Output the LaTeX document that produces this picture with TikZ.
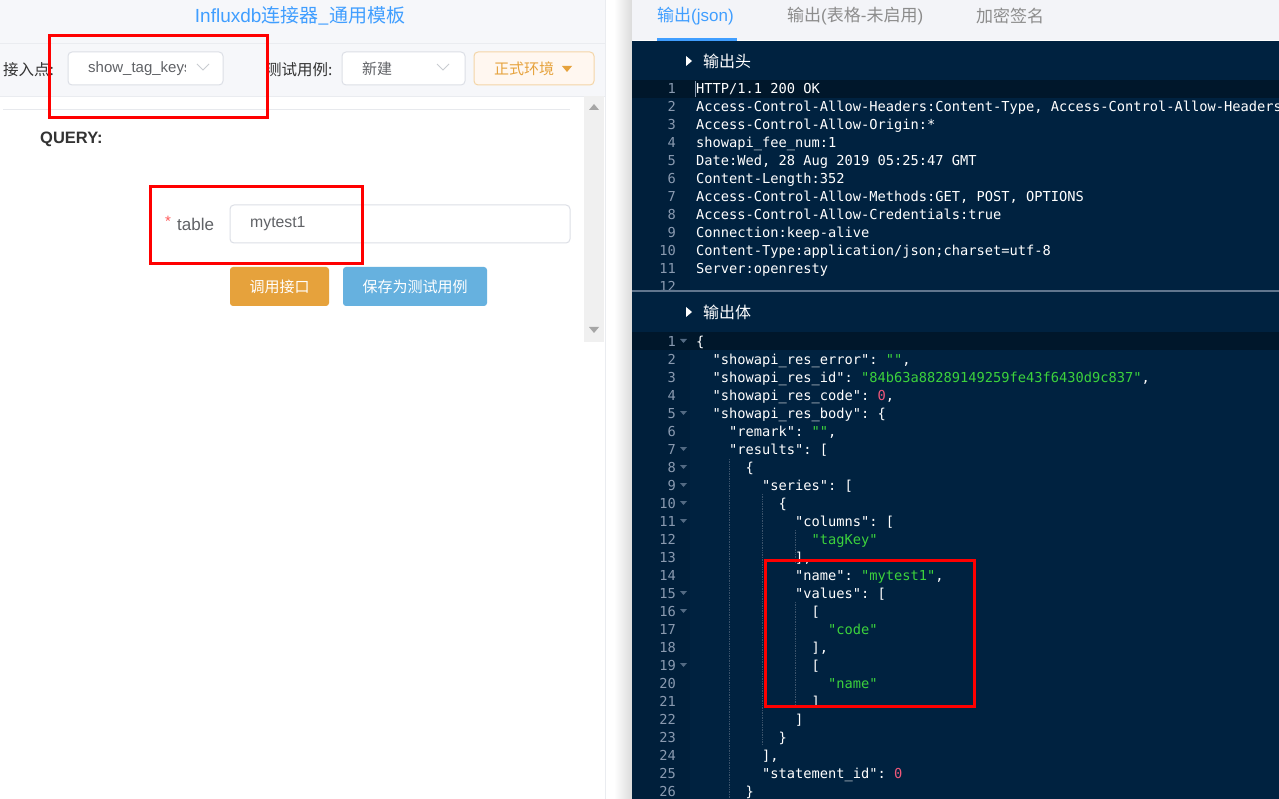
\documentclass[tikz,border=0pt]{standalone}
\usepackage{fontspec}
\setmainfont{Liberation Sans}
\setmonofont{DejaVu Sans Mono}
\newfontfamily\cjk{Noto Sans CJK SC}
\definecolor{navy}{HTML}{002240}
\definecolor{activeline}{HTML}{00172B}
\definecolor{gutter}{HTML}{001F3B}
\definecolor{numgray}{HTML}{8A9AB0}
\definecolor{guidegray}{HTML}{3B536B}
\definecolor{jsongreen}{HTML}{3CD23C}
\definecolor{jsonred}{HTML}{F0587A}
\definecolor{uiblue}{HTML}{409EFF}
\definecolor{uigray}{HTML}{606266}
\definecolor{uidark}{HTML}{333333}
\definecolor{bordergray}{HTML}{DCDFE6}
\definecolor{bandgray}{HTML}{F6F7FA}
\definecolor{tabgray}{HTML}{F3F4F8}
\definecolor{uiorange}{HTML}{E6A23C}
\definecolor{uisky}{HTML}{66B1DF}
\newcommand{\jstr}[1]{\textcolor{jsongreen}{#1}}
\newcommand{\jnum}[1]{\textcolor{jsonred}{#1}}

\begin{document}
\begin{tikzpicture}[x=1pt, y=-1pt, inner sep=0pt,
    ui/.style={anchor=west, font=\fontsize{15}{17}\selectfont, text=uigray},
    code/.style={anchor=base west, font=\fontsize{13.7}{16}\ttfamily, text=white},
    lnum/.style={anchor=base east, font=\fontsize{13.7}{16}\ttfamily, text=numgray},
    field/.style={draw=bordergray, fill=white, rounded corners=4pt, line width=1pt},
    button/.style={rounded corners=3pt},
    redbox/.style={draw=red, line width=3pt},
    chevron/.style={draw=bordergray!80!gray, line width=1pt},
    fold/.style={fill=numgray!60!navy},
    guide/.style={draw=guidegray, densely dotted, line width=0.7pt}]
    \useasboundingbox (0,0) rectangle (1279,799);
    \fill[white] (0,0) rectangle (1279,799);
    \fill[bandgray] (0,0) rectangle (605,96);
    \draw[bordergray!60] (0,43.5) -- (605,43.5);
    \draw[bordergray!60] (0,96) -- (605,96);
    \draw[bordergray!60] (605,0) -- (605,799);
    \draw[bordergray!70] (3,109) -- (570,109);
    \node[font=\fontsize{19}{21}\selectfont, text=uiblue] (title) at (300,16)
        {Influxdb{\cjk 连接器\_通用模板}};
    \node[ui, text=uidark, font=\fontsize{15.5}{17}\cjk] (pointlabel) at (3,70) {接入点:};
    \draw[field] (68,52) rectangle (223,85);
    \begin{scope}
        \clip (80,52) rectangle (185,85);
        \node[ui] (pointvalue) at (88,69) {show\_tag\_keys};
    \end{scope}
    \draw[chevron] (197,64) -- (203,70) -- (209,64);
    \node[ui, text=uidark, font=\fontsize{15.5}{17}\cjk] (caselabel) at (266,70) {测试用例:};
    \draw[field] (342,52) rectangle (465,85);
    \node[ui, font=\fontsize{15}{17}\cjk] (casevalue) at (362,69) {新建};
    \draw[chevron] (437,64) -- (443,70) -- (449,64);
    \draw[field, fill=orange!6, draw=uiorange!45] (474,52) rectangle (594,85);
    \node[ui, text=uiorange, font=\fontsize{15}{17}\cjk] (envvalue) at (494,69) {正式环境};
    \fill[uiorange] (562,66) -- (572,66) -- (567,72) -- cycle;
    \fill[black!6] (584,96) rectangle (604,342);
    \fill[black!35] (589,110) -- (599,110) -- (594,104) -- cycle;
    \fill[black!35] (589,327) -- (599,327) -- (594,333) -- cycle;
    \node[anchor=west, font=\fontsize{16.5}{18}\selectfont\bfseries, text=uidark] (query) at (40,139) {QUERY:};
    \node[anchor=west, font=\fontsize{15}{17}\selectfont, text=red!65] (star) at (165,221) {*};
    \node[ui, font=\fontsize{17}{19}\selectfont] (tablelabel) at (177,224) {table};
    \draw[field] (230,205) rectangle (570,243);
    \node[ui, font=\fontsize{15.8}{17}\selectfont] (tablevalue) at (250,224) {mytest1};
    \fill[button, uiorange] (230,267) rectangle (329,306);
    \node[text=white, font=\fontsize{15}{17}\cjk] (callbtn) at (279.5,286.5) {调用接口};
    \fill[button, uisky] (343,267) rectangle (487,306);
    \node[text=white, font=\fontsize{15}{17}\cjk] (savebtn) at (415,286.5) {保存为测试用例};
    \draw[redbox] (49,36) rectangle (267,118);
    \draw[redbox] (150,187) rectangle (362,264);
    \shade[left color=white, right color=black!14] (614,0) rectangle (632,799);
    \fill[tabgray] (632,0) rectangle (1279,40);
    \fill[navy] (632,41) rectangle (1279,799);
    \node[ui, text=uiblue, font=\fontsize{17}{19}\selectfont] (tabjson) at (657,16) {{\cjk 输出}(json)};
    \fill[uiblue] (657,38) rectangle (737,41);
    \node[ui, text=black!45, font=\fontsize{17}{19}\selectfont] (tabtable) at (787,16) {{\cjk 输出}({\cjk 表格}-{\cjk 未启用})};
    \node[ui, text=black!45, font=\fontsize{17}{19}\cjk] (tabsign) at (976,16) {加密签名};
    \fill[white] (686,56) -- (692,61) -- (686,66) -- cycle;
    \node[ui, text=white, font=\fontsize{16}{18}\cjk] (headtitle) at (703,61) {输出头};
    \begin{scope}
        \clip (632,80) rectangle (1279,291);
        \fill[gutter] (632,80) rectangle (690,291);
        \fill[activeline] (632,80) rectangle (1279,98);
        \draw[numgray, line width=0.8pt] (695.5,81) -- (695.5,97);
        \foreach \n in {1,...,12}
            \node[lnum] (hn\n) at (676,{94+18*(\n-1)}) {\n};
        \foreach \n/\txt in {1/{HTTP/1.1 200 OK},
            2/{Access-Control-Allow-Headers:Content-Type, Access-Control-Allow-Headers},
            3/{Access-Control-Allow-Origin:*},
            4/{showapi\_fee\_num:1},
            5/{Date:Wed, 28 Aug 2019 05:25:47 GMT},
            6/{Content-Length:352},
            7/{Access-Control-Allow-Methods:GET, POST, OPTIONS},
            8/{Access-Control-Allow-Credentials:true},
            9/{Connection:keep-alive},
            10/{Content-Type:application/json;charset=utf-8},
            11/{Server:openresty}}
            \node[code] (h\n) at (696,{94+18*(\n-1)}) {\txt};
    \end{scope}
    \draw[numgray!70!navy, line width=1.5pt] (632,291) -- (1279,291);
    \fill[white] (686,307) -- (692,312) -- (686,317) -- cycle;
    \node[ui, text=white, font=\fontsize{16}{18}\cjk] (bodytitle) at (703,312) {输出体};
    \fill[gutter] (632,332) rectangle (690,799);
    \fill[activeline] (632,332) rectangle (1279,350);
    \draw[guide] (729,459) -- (729,799);
    \draw[guide] (762,494) -- (762,745);
    \draw[guide] (795,530) -- (795,563);
    \draw[guide] (795,602) -- (795,707);
    \foreach \n in {1,...,26}
        \node[lnum] (bn\n) at (676,{346+18*(\n-1)}) {\n};
    \foreach \n in {1,5,7,8,9,10,11,15,16,19}
        \fill[fold] (680,{339+18*(\n-1)}) -- ++(7,0) -- ++(-3.5,4) -- cycle;
    \foreach \n/\i/\txt in {1/0/{\{},
        2/2/{"showapi\_res\_error": \jstr{""},},
        3/2/{"showapi\_res\_id": \jstr{"84b63a88289149259fe43f6430d9c837"},},
        4/2/{"showapi\_res\_code": \jnum{0},},
        5/2/{"showapi\_res\_body": \{},
        6/4/{"remark": \jstr{""},},
        7/4/{"results": [},
        8/6/{\{},
        9/8/{"series": [},
        10/10/{\{},
        11/12/{"columns": [},
        12/14/{\jstr{"tagKey"}},
        13/12/{],},
        14/12/{"name": \jstr{"mytest1"},},
        15/12/{"values": [},
        16/14/{[},
        17/16/{\jstr{"code"}},
        18/14/{],},
        19/14/{[},
        20/16/{\jstr{"name"}},
        21/14/{]},
        22/12/{]},
        23/10/{\}},
        24/8/{],},
        25/8/{"statement\_id": \jnum{0}},
        26/6/{\}}}
        \node[code] (b\n) at ({696+8.25*\i},{346+18*(\n-1)}) {\txt};
    \draw[redbox] (765,560) rectangle (974,706);
\end{tikzpicture}
\end{document}
